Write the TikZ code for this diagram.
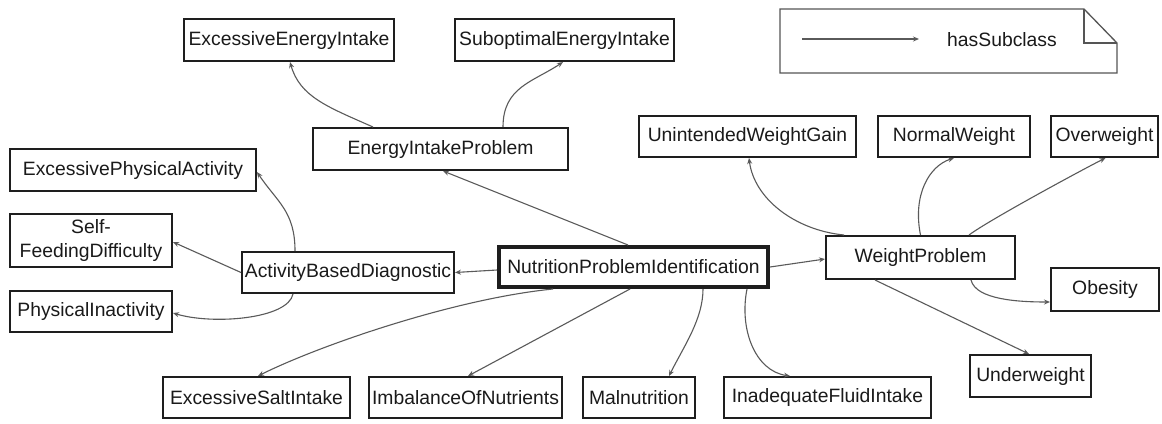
\documentclass[tikz,border=0pt]{standalone}
\usepackage{fontspec}
\setmainfont{Liberation Sans}
\usetikzlibrary{arrows.meta}
\definecolor{boxc}{HTML}{1E1E1E}
\definecolor{edgec}{HTML}{5A5A5A}
\definecolor{txtc}{HTML}{1A1A1A}
\definecolor{legc}{HTML}{555555}
\begin{document}
\begin{tikzpicture}[x=1bp,y=-1bp,
  box/.style={draw=boxc, line width=1.6bp, inner sep=0pt, fill=white,
    font=\fontsize{19.4}{23.5}\selectfont, text=txtc, align=center},
  edge/.style={draw=edgec, line width=1.1bp, -{Stealth[length=6bp,width=5bp]}},
  lbl/.style={font=\fontsize{19.4}{23.5}\selectfont, text=txtc, inner sep=0pt}
  ]
\fill[white] (0,0) rectangle (1162,423);
\useasboundingbox (0,0) rectangle (1162,423);

% nodes
\node[box, minimum width=210.4bp, minimum height=42.4bp] (eei) at (289,40) {ExcessiveEnergyIntake};
\node[box, minimum width=219.4bp, minimum height=42.4bp] (sei) at (564.5,40) {SuboptimalEnergyIntake};
\node[box, minimum width=255.4bp, minimum height=42.4bp] (eip) at (440.5,149) {EnergyIntakeProblem};
\node[box, minimum width=217.4bp, minimum height=41.4bp] (uwg) at (747.5,136.5) {UnintendedWeightGain};
\node[box, minimum width=152.4bp, minimum height=41.4bp] (nw) at (954,136.5) {NormalWeight};
\node[box, minimum width=107.4bp, minimum height=41.4bp] (ow) at (1104.5,136.5) {Overweight};
\node[box, minimum width=246.4bp, minimum height=42.4bp] (epa) at (133,170) {ExcessivePhysicalActivity};
\node[box, minimum width=162.4bp, minimum height=53.4bp] (sfd) at (91,240.5) {Self-\\FeedingDifficulty};
\node[box, minimum width=162.4bp, minimum height=41.4bp] (pi) at (91,311.5) {PhysicalInactivity};
\node[box, minimum width=212.4bp, minimum height=41.4bp] (abd) at (348,272.5) {ActivityBasedDiagnostic};
\node[box, line width=4bp, minimum width=269bp, minimum height=40bp] (npi) at (633.5,267) {NutritionProblemIdentification};
\node[box, minimum width=189.4bp, minimum height=43.4bp] (wp) at (920.5,257.5) {WeightProblem};
\node[box, minimum width=108.4bp, minimum height=43.4bp] (ob) at (1105,289.5) {Obesity};
\node[box, minimum width=121.4bp, minimum height=42.4bp] (uw) at (1030.5,376) {Underweight};
\node[box, minimum width=187.4bp, minimum height=41.4bp] (esi) at (256.5,397.5) {ExcessiveSaltIntake};
\node[box, minimum width=193.4bp, minimum height=41.4bp] (ion) at (465.5,397.5) {ImbalanceOfNutrients};
\node[box, minimum width=112.4bp, minimum height=41.4bp] (mal) at (639,397.5) {Malnutrition};
\node[box, minimum width=207.4bp, minimum height=41.4bp] (ifi) at (827.5,397.5) {InadequateFluidIntake};

% legend
\draw[legc, line width=1.3bp] (780,9) -- (1084,9) -- (1117,43) -- (1117,73) -- (780,73) -- cycle;
\draw[legc, line width=1.3bp] (1084,9) -- (1084,43) -- (1117,43);
\coordinate (la) at (802,39);
\coordinate (lb) at (919,39);
\draw[edge] (la) -- (lb);
\node[lbl] (leg) at (1002,40) {hasSubclass};

% edges
\draw[edge] ([xshift=-67.5bp]eip.north) .. controls +(-45,-20) and +(10,35) .. ([xshift=1bp]eei.south);
\draw[edge] ([xshift=62.5bp]eip.north) .. controls +(0,-40) and +(-30,20) .. ([xshift=-1.5bp]sei.south);
\draw[edge] ([xshift=-5.5bp]npi.north) -- ([xshift=2.5bp]eip.south);
\draw[edge] ([yshift=-3bp]npi.west) -- (abd.east);
\draw[edge] ([xshift=-53bp]abd.north) .. controls +(0,-40) and +(20,30) .. ([yshift=-2bp]epa.east);
\draw[edge] (abd.west) -- ([yshift=-1.5bp]sfd.east);
\draw[edge] ([xshift=-55bp]abd.south) .. controls +(-5,25) and +(40,12) .. ([yshift=-1.5bp]pi.east);
\draw[edge] (npi.east) -- ([yshift=-1.5bp]wp.west);
\draw[edge] ([xshift=-76.5bp]wp.north) .. controls +(-50,-5) and +(5,40) .. ([xshift=1.5bp]uwg.south);
\draw[edge] (wp.north) .. controls +(-8,-40) and +(-25,8) .. (nw.south);
\draw[edge] ([xshift=48.5bp]wp.north) .. controls +(20,-15) and +(-20,10) .. ([xshift=1bp]ow.south);
\draw[edge] ([xshift=50.5bp]wp.south) .. controls +(5,20) and +(-30,0) .. ([yshift=-12.5bp]ob.west);
\draw[edge] ([xshift=-45.5bp]wp.south) -- ([xshift=-1.5bp]uw.north);
\draw[edge] ([xshift=-80.5bp]npi.south) .. controls +(-100,10) and +(60,-30) .. ([xshift=1.5bp]esi.north);
\draw[edge] ([xshift=-3.5bp]npi.south) -- ([xshift=2.5bp]ion.north);
\draw[edge] ([xshift=69.5bp]npi.south) .. controls +(0,30) and +(15,-30) .. ([xshift=30bp]mal.north);
\draw[edge] ([xshift=113.5bp]npi.south) .. controls +(-8,40) and +(-35,-5) .. ([xshift=-37.5bp]ifi.north);
\end{tikzpicture}
\end{document}
